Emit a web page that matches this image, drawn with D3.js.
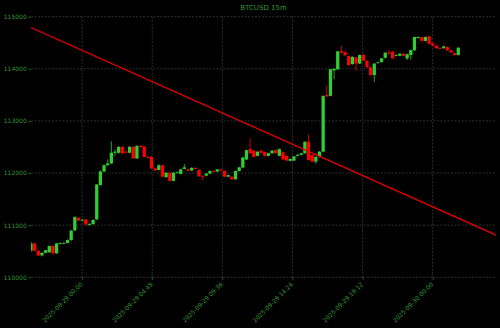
<!DOCTYPE html>
<html>
<head>
<meta charset="utf-8">
<script src="https://d3js.org/d3.v7.min.js"></script>
<style>
    body { margin: 0; background: #000; }
    svg { display: block; }
    text { font-family: "DejaVu Sans", sans-serif; }
</style>
</head>
<body>
<svg id="chart"></svg>
<script>
var WIDTH = 500;
var HEIGHT = 328;
var MARGIN = {top: 16.7, right: 4, bottom: 50.7, left: 31};

var TITLE = "BTCUSD 15m";
var GREEN = "#33cc33";
var RED = "#ff0000";
var TEXT_GREEN = "#339933";

// 15 minute bars, first bar time and bar length
var first_bar = "2025-09-28 20:30";
var bar_minutes = 15;

var opens = [110510, 110650, 110510, 110420, 110470, 110480, 110600, 110460, 110645, 110650,
    110660, 110715, 110900, 111140, 111090, 111110, 111010, 111020, 111110, 111770,
    112030, 112150, 112185, 112390, 112390, 112500, 112410, 112390, 112500, 112280,
    112520, 112510, 112310, 112310, 112090, 112060, 112150, 111920, 112005, 111850,
    112005, 111985, 112080, 112070, 112050, 112100, 112060, 111945, 111950, 111990,
    112040, 112030, 112070, 112040, 111930, 111930, 111880, 112040, 112105, 112260,
    112460, 112430, 112330, 112430, 112400, 112330, 112380, 112440, 112330, 112400,
    112330, 112235, 112240, 112330, 112350, 112380, 112600, 112350, 112220, 112310,
    112410, 113500, 113480, 113970, 113990, 114340, 114320, 114245, 114090, 114220,
    114100, 114270, 114155, 114030, 113880, 114110, 114130, 114210, 114310, 114330,
    114255, 114250, 114290, 114200, 114265, 114355, 114590, 114610, 114535, 114625,
    114490, 114445, 114400, 114395, 114420, 114355, 114300, 114265];
var highs = [110680, 110670, 110520, 110480, 110530, 110610, 110610, 110660, 110670, 110680,
    110730, 110910, 111170, 111160, 111120, 111120, 111040, 111110, 111790, 112050,
    112170, 112260, 112610, 112450, 112520, 112520, 112440, 112520, 112520, 112540,
    112540, 112520, 112330, 112320, 112110, 112170, 112160, 112020, 112020, 112020,
    112030, 112080, 112170, 112090, 112110, 112110, 112070, 111960, 112000, 112050,
    112050, 112080, 112080, 112050, 111970, 111940, 112050, 112120, 112310, 112450,
    112670, 112440, 112420, 112440, 112410, 112390, 112440, 112450, 112470, 112410,
    112340, 112280, 112330, 112360, 112390, 112610, 112740, 112360, 112320, 112420,
    113490, 113680, 114000, 114010, 114345, 114440, 114330, 114255, 114240, 114230,
    114275, 114280, 114165, 114040, 114110, 114140, 114210, 114320, 114360, 114340,
    114280, 114300, 114300, 114290, 114370, 114620, 114620, 114620, 114620, 114635,
    114500, 114455, 114420, 114440, 114430, 114365, 114310, 114415];
var lows = [110490, 110500, 110410, 110400, 110460, 110470, 110440, 110450, 110630, 110640,
    110650, 110700, 110890, 111080, 111070, 111000, 110990, 111010, 111100, 111760,
    112020, 112140, 112170, 112330, 112370, 112360, 112380, 112380, 112270, 112270,
    112490, 112300, 112290, 112080, 112040, 112050, 111920, 111910, 111840, 111840,
    111990, 111970, 112070, 112040, 112040, 112070, 111930, 111865, 111940, 111980,
    112020, 112020, 112040, 111920, 111920, 111870, 111870, 112030, 112100, 112250,
    112370, 112300, 112320, 112380, 112320, 112320, 112370, 112370, 112320, 112250,
    112230, 112225, 112230, 112320, 112340, 112370, 112240, 112210, 112180, 112300,
    112400, 113460, 113470, 113800, 113980, 114300, 114250, 114060, 114080, 113960,
    114090, 114145, 114020, 113870, 113750, 114100, 114120, 114200, 114280, 114190,
    114240, 114240, 114240, 114170, 114175, 114345, 114580, 114525, 114525, 114470,
    114435, 114385, 114380, 114385, 114345, 114305, 114255, 114255];
var closes = [110650, 110510, 110420, 110470, 110520, 110600, 110460, 110650, 110655, 110660,
    110715, 110895, 111155, 111090, 111105, 111015, 111020, 111100, 111780, 112030,
    112150, 112185, 112390, 112410, 112500, 112380, 112390, 112500, 112280, 112520,
    112500, 112310, 112300, 112090, 112050, 112150, 111930, 112005, 111850, 112005,
    112015, 112070, 112110, 112045, 112100, 112080, 111940, 111935, 111990, 112040,
    112030, 112070, 112050, 111930, 111960, 111880, 112040, 112110, 112300, 112440,
    112380, 112310, 112410, 112390, 112330, 112380, 112430, 112380, 112460, 112260,
    112240, 112270, 112320, 112350, 112380, 112600, 112250, 112220, 112310, 112410,
    113480, 113470, 113990, 114000, 114335, 114310, 114260, 114070, 114230, 114100,
    114265, 114155, 114030, 113880, 114100, 114125, 114200, 114310, 114290, 114200,
    114265, 114290, 114250, 114280, 114360, 114610, 114610, 114535, 114610, 114480,
    114445, 114395, 114395, 114430, 114355, 114315, 114265, 114405];

// trend line end points
var trend_times = ["2025-09-28 20:30", "2025-09-30 04:20"];
var trend_values = [114790, 110810];

// axis limits and ticks
var x_limits = ["2025-09-28 20:30", "2025-09-30 04:20"];
var y_limits = [110000, 115000];
var x_tick_labels = ["2025-09-29 00:00", "2025-09-29 04:48", "2025-09-29 09:36",
    "2025-09-29 14:24", "2025-09-29 19:12", "2025-09-30 00:00"];
var y_tick_values = [110000, 111000, 112000, 113000, 114000, 115000];

var parse = d3.timeParse("%Y-%m-%d %H:%M");

/**
 * Build the list of bars from the separate price arrays
 * @returns {Array.<Object>} bars with time, open, high, low, close
 */
function build_bars() {
    var start = parse(first_bar);
    var bars = [];
    for (var i = 0; i < opens.length; i++) {
        bars.push({
            time: d3.timeMinute.offset(start, bar_minutes * i),
            open: opens[i], high: highs[i], low: lows[i], close: closes[i]
        });
    }
    return bars;
}

function draw() {
    var bars = build_bars();
    var inner_w = WIDTH - MARGIN.left - MARGIN.right;
    var inner_h = HEIGHT - MARGIN.top - MARGIN.bottom;

    var svg = d3.select("#chart")
        .attr("width", WIDTH)
        .attr("height", HEIGHT)
        .style("background", "#000");

    var x = d3.scaleTime()
        .domain(x_limits.map(parse))
        .range([0, inner_w]);
    var y = d3.scaleLinear()
        .domain(y_limits)
        .range([inner_h, 0]);

    svg.append("defs").append("clipPath").attr("id", "plot-clip")
        .append("rect").attr("width", inner_w).attr("height", inner_h + 40).attr("y", -20);

    var g = svg.append("g")
        .attr("transform", "translate(" + MARGIN.left + "," + MARGIN.top + ")");

    var x_ticks = x_tick_labels.map(parse);

    // grid
    g.append("g").attr("class", "grid")
        .selectAll("line.h").data(y_tick_values).enter().append("line")
        .attr("x1", 0).attr("x2", inner_w)
        .attr("y1", function(d) { return y(d); })
        .attr("y2", function(d) { return y(d); });
    g.select(".grid")
        .selectAll("line.v").data(x_ticks).enter().append("line")
        .attr("x1", function(d) { return x(d); })
        .attr("x2", function(d) { return x(d); })
        .attr("y1", 0).attr("y2", inner_h);
    g.selectAll(".grid line")
        .attr("stroke", "#444")
        .attr("stroke-width", 0.7)
        .attr("stroke-dasharray", "2,1.5");

    // y axis
    var y_axis = g.append("g")
        .call(d3.axisLeft(y).tickValues(y_tick_values).tickSize(2.5).tickPadding(1.8)
            .tickFormat(d3.format("d")));
    // x axis
    var x_axis = g.append("g")
        .attr("transform", "translate(0," + inner_h + ")")
        .call(d3.axisBottom(x).tickValues(x_ticks).tickSize(2.5)
            .tickFormat(function(d, i) { return x_tick_labels[i]; }));

    [y_axis, x_axis].forEach(function(axis) {
        axis.select(".domain").remove();
        axis.selectAll(".tick line").attr("stroke", "#2f8f2f").attr("stroke-width", 0.7);
        axis.selectAll("text")
            .attr("fill", TEXT_GREEN)
            .style("font-size", "6px");
    });
    x_axis.selectAll("text")
        .attr("x", 0).attr("y", 0).attr("dy", "0.35em")
        .attr("text-anchor", "end")
        .attr("transform", "translate(-1,6) rotate(-45)");

    // candles
    var step = x(d3.timeMinute.offset(bars[0].time, bar_minutes)) - x(bars[0].time);
    var body_w = step * 0.9;
    var plot = g.append("g").attr("clip-path", "url(#plot-clip)");
    var candle = plot.selectAll("g.candle").data(bars).enter().append("g")
        .attr("class", "candle");
    candle.append("line")
        .attr("x1", function(d) { return x(d.time); })
        .attr("x2", function(d) { return x(d.time); })
        .attr("y1", function(d) { return y(d.high); })
        .attr("y2", function(d) { return y(d.low); })
        .attr("stroke", function(d) { return d.close >= d.open ? GREEN : RED; })
        .attr("stroke-width", 0.8);
    candle.append("rect")
        .attr("x", function(d) { return x(d.time) - body_w / 2; })
        .attr("width", body_w)
        .attr("y", function(d) { return y(Math.max(d.open, d.close)); })
        .attr("height", function(d) {
            return Math.max(0.8, Math.abs(y(d.open) - y(d.close)));
        })
        .attr("fill", function(d) { return d.close >= d.open ? GREEN : RED; });

    // trend line
    var trend = trend_times.map(function(t, i) { return {time: parse(t), value: trend_values[i]}; });
    plot.append("path")
        .datum(trend)
        .attr("fill", "none")
        .attr("stroke", "#e00000")
        .attr("stroke-width", 1.3)
        .attr("d", d3.line()
            .x(function(d) { return x(d.time); })
            .y(function(d) { return y(d.value); }));

    // title
    svg.append("text")
        .attr("x", MARGIN.left + inner_w / 2)
        .attr("y", 10)
        .attr("text-anchor", "middle")
        .attr("fill", TEXT_GREEN)
        .style("font-size", "7px")
        .text(TITLE);
}

draw();
</script>
</body>
</html>
